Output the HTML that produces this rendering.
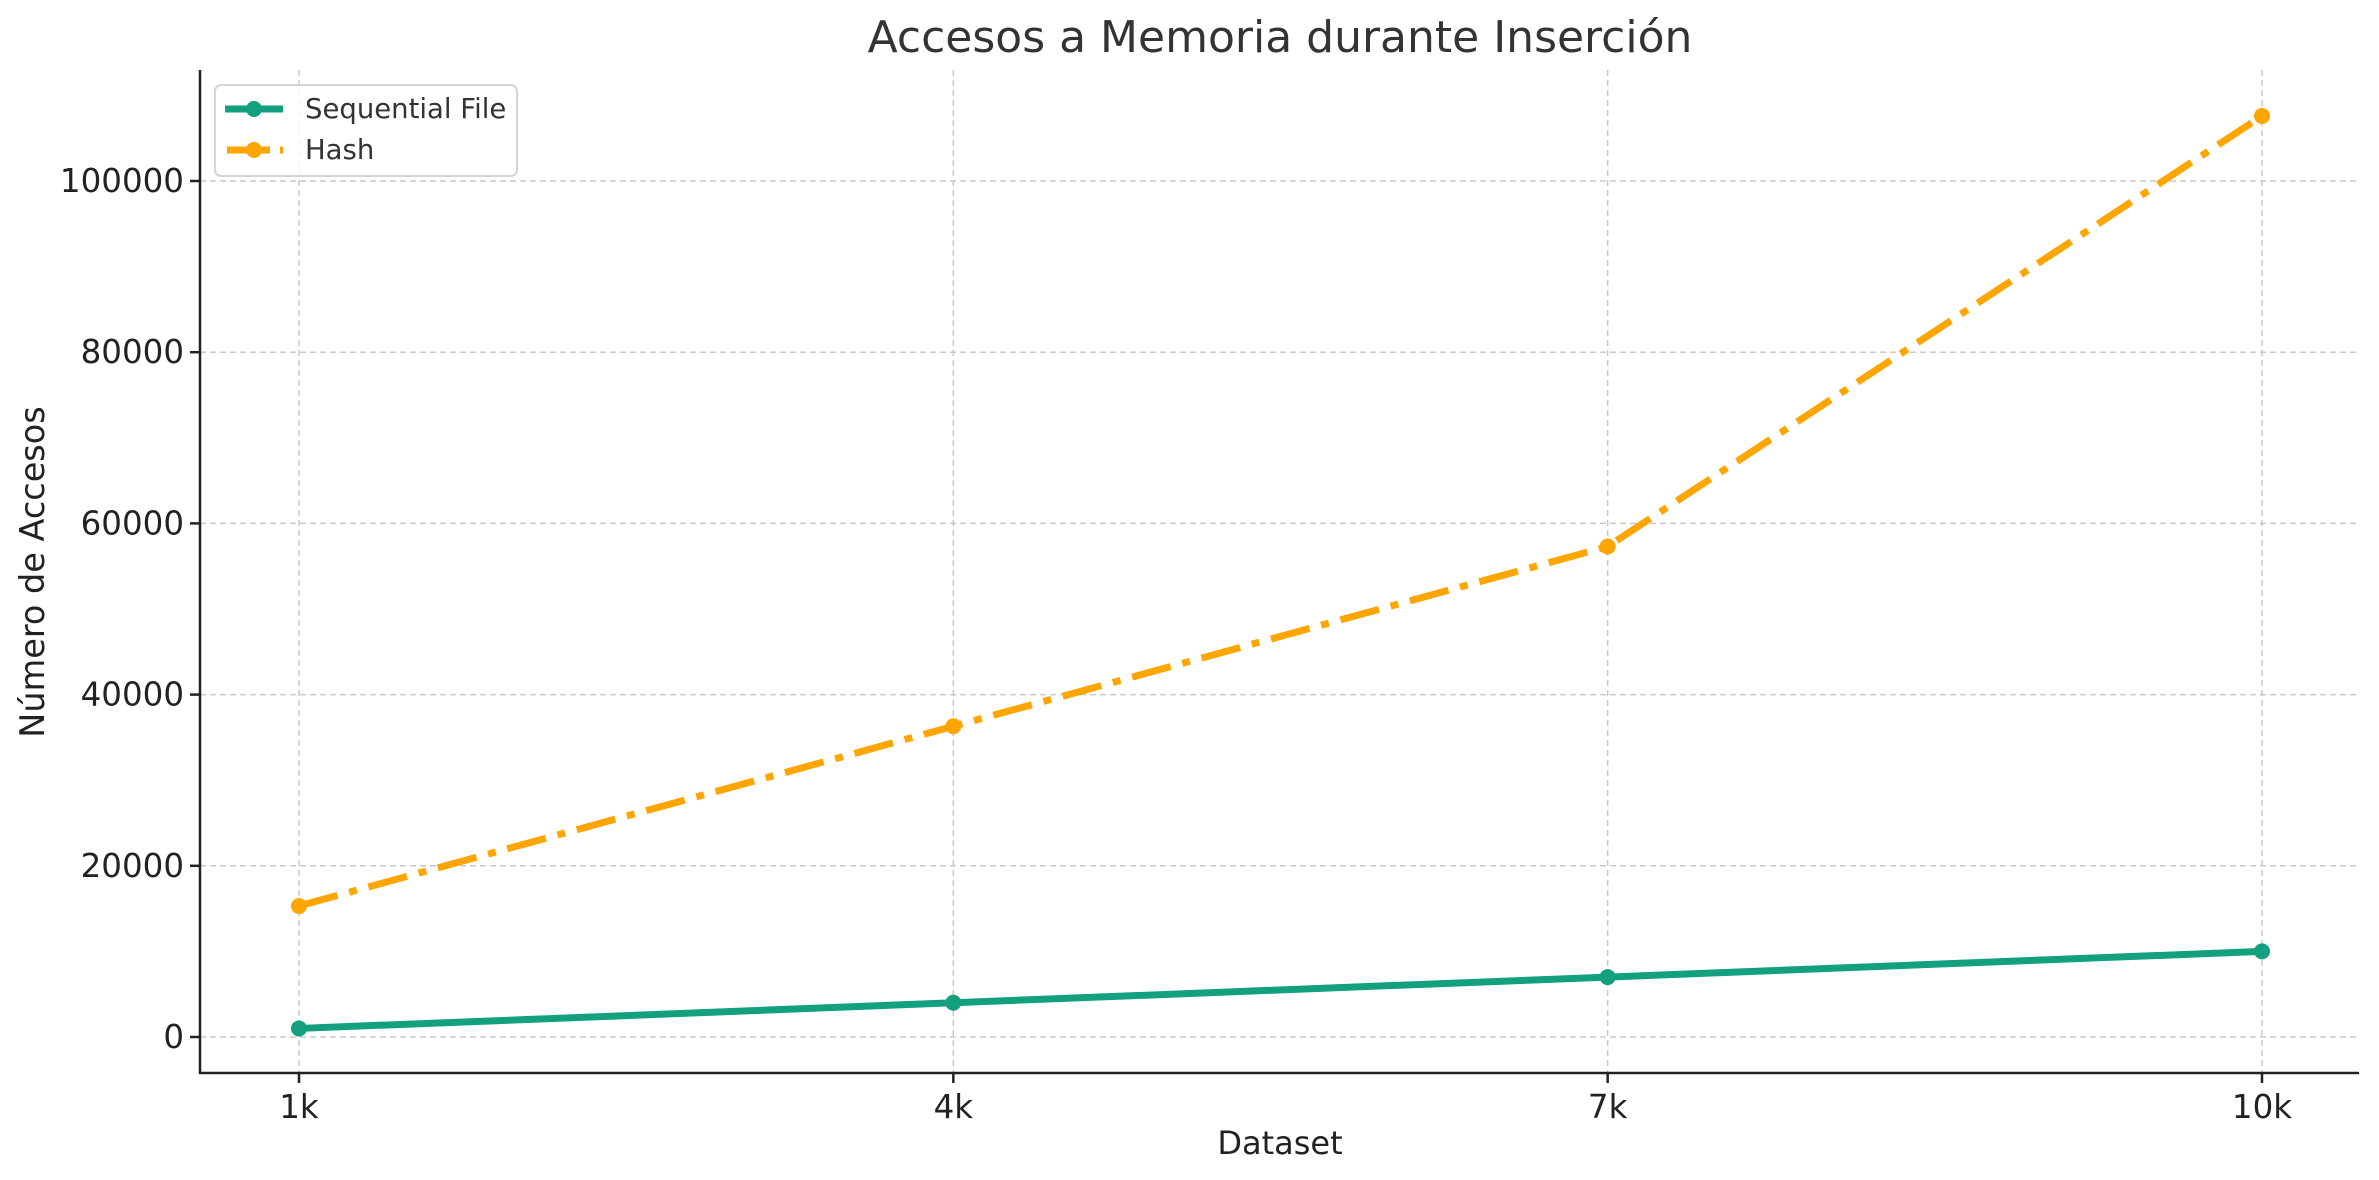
<!DOCTYPE html>
<html><head><meta charset="utf-8"><style>
html,body{margin:0;padding:0;background:#fff;}
svg{display:block;font-family:"DejaVu Sans","Liberation Sans",sans-serif;}
</style></head><body>
<svg id="chart" width="2379" height="1180" viewBox="0 0 2379 1180">
<g id="grid"></g>
<g id="series"></g>
<g id="axes"></g>
<text x="1280" y="52" text-anchor="middle" font-size="44" fill="#333">Accesos a Memoria durante Inserción</text>
<text x="1280" y="1154" text-anchor="middle" font-size="32" fill="#222">Dataset</text>
<text transform="translate(44,572) rotate(-90)" text-anchor="middle" font-size="33.5" fill="#222">Número de Accesos</text>
<g>
<rect x="215" y="85" width="302" height="91" rx="6" fill="#fff" fill-opacity="0.8" stroke="#d5d5d5" stroke-width="2"/>
<g>
<line x1="225" y1="109" x2="283" y2="109" stroke="#12a07e" stroke-width="7"/>
<circle cx="254" cy="109" r="8" fill="#12a07e"/>
<text x="305" y="118" font-size="27.5" fill="#333">Sequential File</text></g>
<g>
<line x1="227" y1="150" x2="270" y2="150" stroke="#ffa500" stroke-width="7"/>
<line x1="280" y1="150" x2="283" y2="150" stroke="#ffa500" stroke-width="7"/>
<circle cx="254" cy="150" r="8" fill="#ffa500"/>
<text x="305" y="159" font-size="27.5" fill="#333">Hash</text></g>
</g>
</svg>
<script>
const categories = ["1k","4k","7k","10k"];
const seqValues = [1000, 4000, 7000, 10000];
const hashValues = [15300, 36300, 57300, 107600];
const yTicks = [0, 20000, 40000, 60000, 80000, 100000];

const NS = "http://www.w3.org/2000/svg";
const L = 200, R = 2359, T = 70, B = 1073;
const x0 = 299, xStep = (2262 - 299) / 3;
function xScale(i){ return x0 + i * xStep; }
function yScale(v){ return 1037 - v * (1037 - 181) / 100000; }
function mk(tag, attrs, parent){
  const e = document.createElementNS(NS, tag);
  for (const k in attrs) e.setAttribute(k, attrs[k]);
  parent.appendChild(e); return e;
}
const grid = document.getElementById("grid");
const axes = document.getElementById("axes");
const series = document.getElementById("series");

yTicks.forEach(v => {
  const y = yScale(v);
  const g = mk("line", {x1:L, x2:R, y1:y, y2:y, stroke:"#c8c8c8", "stroke-width":1.5, "stroke-dasharray":"6,4"}, grid);
  
  
  const t = mk("line", {x1:L-10, x2:L, y1:y, y2:y, stroke:"#222", "stroke-width":2.5}, axes);
  
  
  const lb = mk("text", {x:L-16, y:y+11, "text-anchor":"end", "font-size":32.5, fill:"#222"}, axes);
  lb.textContent = String(v);
  
  
});
categories.forEach((c, i) => {
  const x = xScale(i);
  const g = mk("line", {x1:x, x2:x, y1:T, y2:B, stroke:"#c8c8c8", "stroke-width":1.5, "stroke-dasharray":"6,4"}, grid);
  
  
  const t = mk("line", {x1:x, x2:x, y1:B, y2:B+10, stroke:"#222", "stroke-width":2.5}, axes);
  
  
  const lb = mk("text", {x:x, y:B+45, "text-anchor":"middle", "font-size":32.5, fill:"#222"}, axes);
  lb.textContent = c;
  
  
});
const sl = mk("line", {x1:L, x2:L, y1:T, y2:B+1, stroke:"#222", "stroke-width":2.5}, axes);


const sb = mk("line", {x1:L-1, x2:R, y1:B, y2:B, stroke:"#222", "stroke-width":2.5}, axes);



function drawSeries(vals, color, dash, name){
  const pts = vals.map((v, i) => xScale(i) + "," + yScale(v)).join(" ");
  const attrs = {points:pts, fill:"none", stroke:color, "stroke-width":7, "stroke-linejoin":"round"};
  if (dash) attrs["stroke-dasharray"] = dash;
  const pl = mk("polyline", attrs, series);
  
  
  vals.forEach((v, i) => {
    const c = mk("circle", {cx:xScale(i), cy:yScale(v), r:8, fill:color}, series);
    
    
  });
}
drawSeries(hashValues, "#ffa500", "40,12,8,12", "hash");
drawSeries(seqValues, "#12a07e", null, "sequential-file");
</script>
</body></html>
